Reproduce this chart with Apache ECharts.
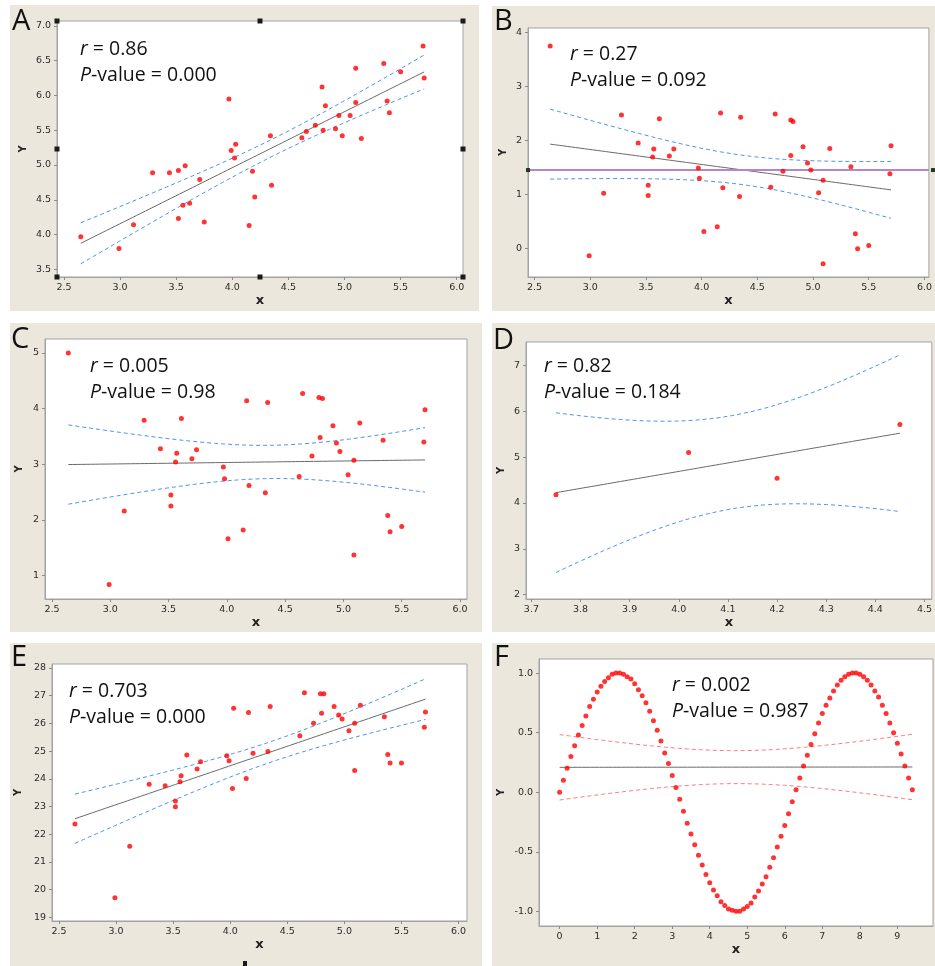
<!DOCTYPE html>
<html><head><meta charset="utf-8">
<script src="https://cdn.jsdelivr.net/npm/echarts@6/dist/echarts.min.js"></script>
<style>
html,body{margin:0;padding:0;background:#fff;}
#wrap{position:relative;width:935px;height:966px;overflow:hidden;}
.pnl{position:absolute;background:#ECE7DC;}
#c{position:absolute;left:0;top:0;width:935px;height:966px;}
</style></head>
<body><div id="wrap">
<div class="pnl" style="left:10px;top:5px;width:469px;height:306px"></div>
<div class="pnl" style="left:492px;top:6px;width:443px;height:305px"></div>
<div class="pnl" style="left:10px;top:323px;width:472px;height:309px"></div>
<div class="pnl" style="left:492px;top:323px;width:443px;height:309px"></div>
<div class="pnl" style="left:10px;top:643px;width:472px;height:323px"></div>
<div class="pnl" style="left:492px;top:643px;width:443px;height:323px"></div>
<div id="c"></div></div>
<script>
// ---------- data ----------
const ptsA = [[2.65,3.97],[2.99,3.80],[3.12,4.14],[3.29,4.89],[3.44,4.89],[3.52,4.92],[3.52,4.23],[3.56,4.42],[3.58,4.99],[3.62,4.45],[3.71,4.79],[3.75,4.18],[3.97,5.95],[3.99,5.21],[4.02,5.10],[4.03,5.30],[4.15,4.13],[4.18,4.91],[4.20,4.54],[4.34,5.42],[4.35,4.71],[4.62,5.39],[4.66,5.48],[4.74,5.57],[4.80,6.12],[4.81,5.50],[4.83,5.85],[4.92,5.52],[4.95,5.71],[4.98,5.42],[5.05,5.71],[5.10,6.39],[5.10,5.90],[5.15,5.38],[5.35,6.46],[5.38,5.92],[5.40,5.75],[5.50,6.34],[5.70,6.71],[5.71,6.25]];
const ptsB = [[2.64,3.75],[2.99,-0.14],[3.12,1.02],[3.28,2.47],[3.43,1.95],[3.52,1.17],[3.52,0.98],[3.56,1.69],[3.57,1.84],[3.62,2.40],[3.71,1.71],[3.75,1.84],[3.97,1.49],[3.98,1.30],[4.02,0.31],[4.14,0.40],[4.17,2.51],[4.19,1.12],[4.34,0.96],[4.35,2.43],[4.62,1.13],[4.66,2.49],[4.73,1.43],[4.80,2.38],[4.82,2.35],[4.80,1.72],[4.91,1.88],[4.95,1.58],[4.98,1.45],[5.05,1.03],[5.09,1.26],[5.09,-0.29],[5.15,1.85],[5.34,1.51],[5.38,0.27],[5.40,-0.01],[5.50,0.05],[5.70,1.90],[5.69,1.38]];
const ptsC = [[2.64,5.00],[2.99,0.84],[3.12,2.16],[3.29,3.79],[3.43,3.28],[3.52,2.45],[3.52,2.25],[3.56,3.04],[3.57,3.20],[3.61,3.82],[3.70,3.10],[3.74,3.26],[3.97,2.95],[3.98,2.74],[4.01,1.66],[4.14,1.82],[4.17,4.14],[4.19,2.62],[4.33,2.49],[4.35,4.11],[4.62,2.78],[4.65,4.27],[4.73,3.15],[4.79,4.20],[4.80,3.48],[4.82,4.18],[4.91,3.69],[4.94,3.38],[4.97,3.23],[5.04,2.81],[5.09,3.07],[5.09,1.37],[5.14,3.74],[5.34,3.43],[5.38,2.08],[5.40,1.79],[5.50,1.88],[5.69,3.40],[5.70,3.98]];
const ptsD = [[3.75,4.18],[4.02,5.10],[4.20,4.54],[4.45,5.71]];
const ptsE = [[2.64,22.37],[2.99,19.71],[3.12,21.57],[3.29,23.80],[3.43,23.75],[3.52,23.20],[3.52,22.99],[3.56,23.89],[3.57,24.11],[3.62,24.86],[3.71,24.35],[3.74,24.61],[3.97,24.83],[3.99,24.65],[4.02,23.65],[4.03,26.54],[4.14,24.01],[4.16,26.39],[4.20,24.92],[4.33,24.98],[4.35,26.61],[4.61,25.55],[4.65,27.10],[4.73,26.00],[4.79,27.07],[4.80,26.36],[4.82,27.07],[4.91,26.61],[4.95,26.30],[4.98,26.16],[5.04,25.73],[5.09,26.00],[5.09,24.30],[5.14,26.65],[5.35,26.24],[5.38,24.88],[5.40,24.57],[5.50,24.57],[5.70,25.86],[5.71,26.41]];
const xF = [0.0,0.1,0.2,0.3,0.4,0.5,0.6,0.7,0.8,0.9,1.0,1.1,1.2,1.3,1.4,1.5,1.6,1.7,1.8,1.9,2.0,2.1,2.2,2.3,2.4,2.5,2.6,2.7,2.8,2.9,3.0,3.1,3.2,3.3,3.4,3.5,3.6,3.7,3.8,3.9,4.0,4.1,4.2,4.3,4.4,4.5,4.6,4.7,4.8,4.9,5.0,5.1,5.2,5.3,5.4,5.5,5.6,5.7,5.8,5.9,6.0,6.1,6.2,6.3,6.4,6.5,6.6,6.7,6.8,6.9,7.0,7.1,7.2,7.3,7.4,7.5,7.6,7.7,7.8,7.9,8.0,8.1,8.2,8.3,8.4,8.5,8.6,8.7,8.8,8.9,9.0,9.1,9.2,9.3,9.4];
const yF = [0.00,0.10,0.20,0.30,0.39,0.48,0.56,0.64,0.72,0.78,0.84,0.89,0.93,0.96,0.99,1.00,1.00,0.99,0.97,0.95,0.91,0.86,0.81,0.75,0.68,0.60,0.52,0.43,0.33,0.24,0.14,0.04,-0.06,-0.16,-0.26,-0.35,-0.44,-0.53,-0.61,-0.69,-0.76,-0.82,-0.87,-0.92,-0.95,-0.98,-0.99,-1.00,-1.00,-0.98,-0.96,-0.93,-0.88,-0.83,-0.77,-0.71,-0.63,-0.55,-0.46,-0.37,-0.28,-0.18,-0.08,0.02,0.12,0.22,0.31,0.40,0.49,0.58,0.66,0.73,0.79,0.85,0.90,0.94,0.97,0.99,1.00,1.00,0.99,0.97,0.94,0.90,0.85,0.80,0.73,0.66,0.58,0.50,0.41,0.32,0.22,0.12,0.02];
const refLineB = 1.45;

const ticksX_std = [2.5,3.0,3.5,4.0,4.5,5.0,5.5,6.0];
const ticksY_A = [3.5,4.0,4.5,5.0,5.5,6.0,6.5,7.0];
const ticksY_B = [0,1,2,3,4];
const ticksY_C = [1,2,3,4,5];
const ticksX_D = [3.7,3.8,3.9,4.0,4.1,4.2,4.3,4.4,4.5];
const ticksY_D = [2,3,4,5,6,7];
const ticksY_E = [19,20,21,22,23,24,25,26,27,28];
const ticksX_F = [0,1,2,3,4,5,6,7,8,9];
const ticksY_F = [-1.0,-0.5,0.0,0.5,1.0];

const statsText = {
  A:['0.86','0.000'], B:['0.27','0.092'], C:['0.005','0.98'],
  D:['0.82','0.184'], E:['0.703','0.000'], F:['0.002','0.987']
};

// ---------- helpers ----------
function tcrit(df){
  const tab={1:12.706,2:4.303,3:3.182,4:2.776,5:2.571};
  if(tab[df]) return tab[df];
  const z=1.959964, z3=z*z*z, z5=z3*z*z, z7=z5*z*z;
  return z+(z3+z)/(4*df)+(5*z5+16*z3+3*z)/(96*df*df)+(3*z7+19*z5+17*z3-15*z)/(384*df*df*df);
}
function fit(pts){
  const n=pts.length; let mx=0,my=0;
  pts.forEach(p=>{mx+=p[0];my+=p[1];}); mx/=n; my/=n;
  let sxx=0,sxy=0; pts.forEach(p=>{sxx+=(p[0]-mx)**2; sxy+=(p[0]-mx)*(p[1]-my);});
  const b=sxy/sxx, a=my-b*mx;
  let sse=0; pts.forEach(p=>{sse+=(p[1]-a-b*p[0])**2;});
  const s=Math.sqrt(sse/(n-2)), t=tcrit(n-2);
  const xs=pts.map(p=>p[0]); const x0=Math.min(...xs), x1=Math.max(...xs);
  const line=[],up=[],lo=[];
  const N=80;
  for(let i=0;i<=N;i++){
    const x=x0+(x1-x0)*i/N, yh=a+b*x;
    const h=t*s*Math.sqrt(1/n+(x-mx)**2/sxx);
    line.push([x,yh]); up.push([x,yh+h]); lo.push([x,yh-h]);
  }
  return {line,up,lo};
}

const ptsF = xF.map((x,i)=>[x,yF[i]]);

const panels = [
  {key:'A', pts:ptsA, grid:{left:57,top:21,width:406,height:256}, xr:[2.438,6.056], yr:[3.39,7.07], xt:ticksX_std, yt:ticksY_A, xd:1, yd:1, ygap:29, band:'#4A94EE',
   txt:[80,49.5], letter:[12,21.7]},
  {key:'B', pts:ptsB, grid:{left:528,top:28,width:405,height:249}, xr:[2.441,6.04], yr:[-0.534,4.085], xt:ticksX_std, yt:ticksY_B, xd:1, yd:0, ygap:20, band:'#4A94EE',
   txt:[570,54.5], letter:[494,21.7]},
  {key:'C', pts:ptsC, grid:{left:45,top:339,width:422,height:260}, xr:[2.44,6.06], yr:[0.58,5.25], xt:ticksX_std, yt:ticksY_C, xd:1, yd:0, ygap:21, band:'#4A94EE',
   txt:[90,366.8], letter:[11,340]},
  {key:'D', pts:ptsD, grid:{left:526,top:342,width:407,height:257}, xr:[3.689,4.515], yr:[1.906,7.51], xt:ticksX_D, yt:ticksY_D, xd:1, yd:0, ygap:20, band:'#4A94EE',
   txt:[544,366.2], letter:[493,340.7]},
  {key:'E', pts:ptsE, grid:{left:52,top:664,width:415,height:257}, xr:[2.439,6.074], yr:[18.87,28.14], xt:ticksX_std, yt:ticksY_E, xd:1, yd:0, ygap:29, band:'#4A94EE',
   txt:[69,691.2], letter:[11,657.3]},
  {key:'F', pts:ptsF, grid:{left:539,top:659,width:394,height:267}, xr:[-0.55,9.95], yr:[-1.123,1.118], xt:ticksX_F, yt:ticksY_F, xd:0, yd:1, ygap:33, band:'#FF7B7B',
   txt:[672,685.8], letter:[494,657.3]}
];

const AX='#A3A3A3', LBL='#2b2b2b';
const grids=[], xAxes=[], yAxes=[], series=[], graphics=[];
panels.forEach((p,i)=>{
  grids.push(Object.assign({show:true,backgroundColor:'#fff',borderColor:AX,borderWidth:1}, p.grid));
  const common = (ticks,dec)=>({
    axisLine:{show:true,onZero:false,lineStyle:{color:AX,width:1}},
    axisTick:{show:true,length:3,lineStyle:{color:'#8a8a8a'},customValues:ticks},
    axisLabel:{customValues:ticks,color:LBL,fontFamily:'DejaVu Sans',fontSize:9.5,margin:6,
      formatter:v=>Number(v).toFixed(dec)},
    splitLine:{show:false}
  });
  xAxes.push(Object.assign({type:'value',gridIndex:i,min:p.xr[0],max:p.xr[1],
    name:'x',nameLocation:'middle',nameGap:17,
    nameTextStyle:{fontFamily:'DejaVu Sans',fontWeight:'bold',fontSize:13,color:'#222'}}, common(p.xt,p.xd)));
  yAxes.push(Object.assign({type:'value',gridIndex:i,min:p.yr[0],max:p.yr[1],
    name:'Y',nameLocation:'middle',nameGap:p.ygap,
    nameTextStyle:{fontFamily:'DejaVu Sans',fontWeight:'bold',fontSize:10,color:'#222'}}, common(p.yt,p.yd)));
  const f=fit(p.pts);
  series.push({type:'line',xAxisIndex:i,yAxisIndex:i,data:f.up,showSymbol:false,silent:true,z:2,
    lineStyle:{color:p.band,width:1,type:[4,3]}});
  series.push({type:'line',xAxisIndex:i,yAxisIndex:i,data:f.lo,showSymbol:false,silent:true,z:2,
    lineStyle:{color:p.band,width:1,type:[4,3]}});
  series.push({type:'line',xAxisIndex:i,yAxisIndex:i,data:f.line,showSymbol:false,silent:true,z:3,
    lineStyle:{color:'#6a6a6a',width:1}});
  const sc={type:'scatter',xAxisIndex:i,yAxisIndex:i,data:p.pts,symbolSize:5,z:5,silent:true,
    itemStyle:{color:'#FF0000'}};
  if(p.key==='B'){
    sc.markLine={silent:true,symbol:['none','none'],label:{show:false},
      lineStyle:{color:'#B488C8',width:2,type:'solid'},data:[{yAxis:refLineB}]};
  }
  series.push(sc);
  graphics.push({type:'text',x:p.letter[0],y:p.letter[1],z:10,
    style:{text:p.key,font:'29px "Open Sans"',fill:'#111',verticalAlign:'middle'}});
  const st=statsText[p.key];
  graphics.push({type:'text',x:p.txt[0],y:p.txt[1],z:10,style:{
    text:'{i|r} = '+st[0],font:'19.5px "Open Sans"',fill:'#111',verticalAlign:'middle',
    rich:{i:{font:'italic 19.5px "Open Sans"'}}}});
  graphics.push({type:'text',x:p.txt[0],y:p.txt[1]+26,z:10,style:{
    text:'{i|P}-value = '+st[1],font:'19.5px "Open Sans"',fill:'#111',verticalAlign:'middle',
    rich:{i:{font:'italic 19.5px "Open Sans"'}}}});
});

const gA=panels[0].grid, hs=5;
[[0,0],[0.5,0],[1,0],[0,0.5],[1,0.5],[0,1],[0.5,1],[1,1]].forEach(f=>{
  graphics.push({type:'rect',z:11,shape:{x:gA.left+f[0]*gA.width-hs/2,y:gA.top+f[1]*gA.height-hs/2,width:hs,height:hs},
    style:{fill:'#1a1a1a'}});
});
graphics.push({type:'rect',z:11,shape:{x:243,y:961,width:4,height:5},style:{fill:'#1a1a1a'}});

const chart=echarts.init(document.getElementById('c'),null,{renderer:'canvas',width:935,height:966});
chart.setOption({backgroundColor:'transparent',animation:false,grid:grids,xAxis:xAxes,yAxis:yAxes,series:series,graphic:graphics});

const gB=panels[1].grid;
const yPix=chart.convertToPixel({yAxisIndex:1},refLineB);
chart.setOption({graphic:graphics.concat([
  {type:'rect',z:11,shape:{x:gB.left-2,y:yPix-2,width:4,height:4},style:{fill:'#1f3a1f'}},
  {type:'rect',z:11,shape:{x:gB.left+gB.width-2,y:yPix-2,width:4,height:4},style:{fill:'#1f3a1f'}}
])});
</script></body></html>
